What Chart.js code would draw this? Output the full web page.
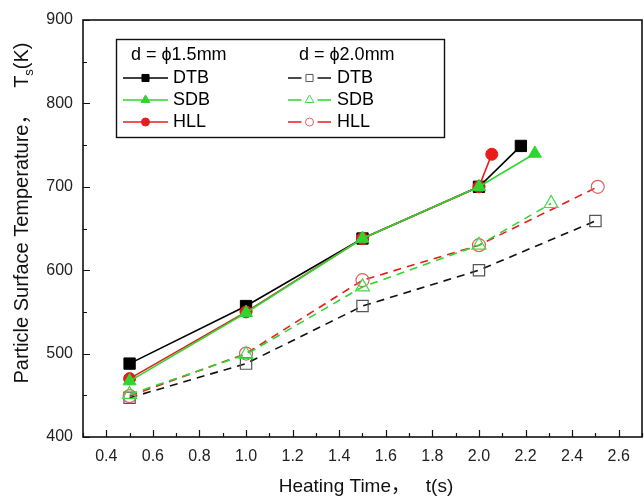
<!DOCTYPE html>
<html>
<head>
<meta charset="utf-8">
<script src="https://cdn.jsdelivr.net/npm/chart.js@4"></script>
<style>
  html, body { margin: 0; padding: 0; overflow: hidden; background: #fff; }
  #wrap { width: 652px; height: 497px; }
</style>
</head>
<body>
<div id="wrap"><canvas id="myChart"></canvas></div>
<script>
/* Daten */
const timeDTB15 = [0.5, 1.0, 1.5, 2.0, 2.18];
const tempDTB15 = [488, 557, 638, 700, 749];
const timeSDB15 = [0.5, 1.0, 1.5, 2.0, 2.24];
const tempSDB15 = [467, 549, 638, 700, 740];
const timeHLL15 = [0.5, 1.0, 1.5, 2.0, 2.055];
const tempHLL15 = [470, 550, 638, 700, 739];

const timeDTB20 = [0.5, 1.0, 1.5, 2.0, 2.5];
const tempDTB20 = [447, 488, 557, 600, 659];
const timeSDB20 = [0.5, 1.0, 1.5, 2.0, 2.31];
const tempSDB20 = [451, 499, 580, 630, 680];
const timeHLL20 = [0.5, 1.0, 1.5, 2.0, 2.51];
const tempHLL20 = [449, 500, 588, 630, 700];

const xMajor = [0.4, 0.6, 0.8, 1.0, 1.2, 1.4, 1.6, 1.8, 2.0, 2.2, 2.4, 2.6];
const xMinor = [0.3, 0.5, 0.7, 0.9, 1.1, 1.3, 1.5, 1.7, 1.9, 2.1, 2.3, 2.5, 2.7];
const yMajor = [400, 500, 600, 700, 800, 900];
const yMinor = [450, 550, 650, 750, 850];

const FONT = "'Liberation Sans', Arial, 'Noto Sans CJK SC', sans-serif";

function pts(xs, ys) {
  return xs.map((x, i) => ({ x: x, y: ys[i] }));
}

const green = '#2fd62f';
const red = '#e81c1c';

/* Reihenfolge: erster Datensatz liegt oben */
const datasets = [
  { label: 'SDB', group: 0, data: pts(timeSDB15, tempSDB15), borderColor: green, backgroundColor: green,
    pointStyle: 'triangle', pointRadius: 7.5, borderWidth: 1.6, pointBorderWidth: 1 },
  { label: 'HLL', group: 0, data: pts(timeHLL15, tempHLL15), borderColor: red, backgroundColor: red,
    pointStyle: 'circle', pointRadius: 6, borderWidth: 1.6, pointBorderWidth: 1 },
  { label: 'DTB', group: 0, data: pts(timeDTB15, tempDTB15), borderColor: '#000', backgroundColor: '#000',
    pointStyle: 'rect', pointRadius: 8, borderWidth: 1.6, pointBorderWidth: 1 },
  { label: 'SDB', group: 1, data: pts(timeSDB20, tempSDB20), borderColor: green, backgroundColor: 'rgba(0,0,0,0)',
    pointBorderColor: '#45d845', pointStyle: 'triangle', pointRadius: 8, borderWidth: 1.6, pointBorderWidth: 1.2,
    borderDash: [8, 6] },
  { label: 'HLL', group: 1, data: pts(timeHLL20, tempHLL20), borderColor: red, backgroundColor: 'rgba(0,0,0,0)',
    pointBorderColor: '#e06060', pointStyle: 'circle', pointRadius: 6.5, borderWidth: 1.6, pointBorderWidth: 1.2,
    borderDash: [8, 6] },
  { label: 'DTB', group: 1, data: pts(timeDTB20, tempDTB20), borderColor: '#111', backgroundColor: 'rgba(0,0,0,0)',
    pointBorderColor: '#555', pointStyle: 'rect', pointRadius: 8, borderWidth: 1.6, pointBorderWidth: 1.2,
    borderDash: [8, 6] }
];
datasets.forEach(d => { d.showLine = true; d.tension = 0; });

/* Rahmen und Ticks nach innen */
const frame = {
  id: 'frame',
  beforeDatasetsDraw(chart) {
    const { ctx, chartArea: a, scales: { x, y } } = chart;
    ctx.save();
    ctx.strokeStyle = '#111';
    ctx.lineWidth = 1.6;
    ctx.strokeRect(a.left, a.top, a.right - a.left, a.bottom - a.top);
    ctx.lineWidth = 1.2;
    ctx.beginPath();
    x.ticks.forEach(t => {
      const px = Math.round(x.getPixelForValue(t.value)) + 0.5;
      const len = t.label ? 7 : 4;
      ctx.moveTo(px, a.bottom);
      ctx.lineTo(px, a.bottom - len);
    });
    y.ticks.forEach(t => {
      const py = Math.round(y.getPixelForValue(t.value)) + 0.5;
      const len = t.label ? 7 : 4;
      ctx.moveTo(a.left, py);
      ctx.lineTo(a.left + len, py);
    });
    ctx.stroke();
    ctx.restore();
  }
};

/* Achsentitel und Legende */
const extras = {
  id: 'extras',
  afterDraw(chart) {
    const ctx = chart.ctx;
    ctx.save();
    ctx.fillStyle = '#111';

    // x-Titel
    ctx.font = '19px ' + FONT;
    ctx.textAlign = 'center';
    ctx.textBaseline = 'alphabetic';
    ctx.fillText('Heating Time\uFF0C   t(s)', 366, 492);

    // y-Titel mit Index
    const main = 'Particle Surface Temperature\uFF0C   T';
    ctx.font = '20px ' + FONT;
    const w1 = ctx.measureText(main).width;
    ctx.font = '13px ' + FONT;
    const w2 = ctx.measureText('s').width;
    ctx.font = '20px ' + FONT;
    const w3 = ctx.measureText('(K)').width;
    const total = w1 + w2 + w3;
    ctx.translate(28, 213);
    ctx.rotate(-Math.PI / 2);
    ctx.textAlign = 'left';
    let sx = -total / 2;
    ctx.fillText(main, sx, 0);
    sx += w1;
    ctx.font = '13px ' + FONT;
    ctx.fillText('s', sx, 5);
    sx += w2;
    ctx.font = '20px ' + FONT;
    ctx.fillText('(K)', sx, 0);
    ctx.setTransform(1, 0, 0, 1, 0, 0);

    // Legende
    ctx.strokeStyle = '#111';
    ctx.lineWidth = 1.4;
    ctx.strokeRect(116.5, 39.5, 328, 98);
    ctx.font = '18px ' + FONT;
    ctx.textAlign = 'left';
    ctx.textBaseline = 'middle';
    ctx.fillStyle = '#000';
    ctx.fillText('d = \u03D51.5mm', 131, 55);
    ctx.fillText('d = \u03D52.0mm', 299, 55);

    const rows = { DTB: 78, SDB: 100, HLL: 122 };
    const cols = [
      { x1: 123, x2: 168, tx: 173 },
      { x1: 288, x2: 331, tx: 337 }
    ];
    datasets.forEach(ds => {
      const c = cols[ds.group];
      const yy = rows[ds.label];
      const mid = (c.x1 + c.x2) / 2;
      ctx.strokeStyle = ds.borderColor;
      ctx.lineWidth = 1.6;
      ctx.beginPath();
      if (ds.group === 0) {
        ctx.moveTo(c.x1, yy); ctx.lineTo(c.x2, yy);
      } else {
        ctx.moveTo(c.x1, yy); ctx.lineTo(mid - 8, yy);
        ctx.moveTo(mid + 8, yy); ctx.lineTo(c.x2, yy);
      }
      ctx.stroke();
      ctx.fillStyle = ds.backgroundColor;
      ctx.strokeStyle = ds.pointBorderColor || ds.borderColor;
      ctx.lineWidth = 1;
      const r = ds.pointStyle === 'rect' ? 5 : (ds.pointStyle === 'triangle' ? 5 : 4);
      Chart.helpers.drawPoint(ctx, { pointStyle: ds.pointStyle, radius: r, borderWidth: 1, rotation: 0 }, mid, yy);
      ctx.fillStyle = '#000';
      ctx.fillText(ds.label, c.tx, yy);
    });
    ctx.restore();
  }
};

const ctx = document.getElementById('myChart');

new Chart(ctx, {
  type: 'scatter',
  data: { datasets: datasets },
  options: {
    responsive: true,
    maintainAspectRatio: false,
    animation: false,
    layout: { padding: { left: 0, top: 20, right: 4, bottom: 0 } },
    plugins: {
      legend: { display: false },
      tooltip: { enabled: false }
    },
    scales: {
      x: {
        type: 'linear',
        min: 0.3,
        max: 2.7,
        grid: { display: false, drawTicks: false },
        border: { display: false },
        afterBuildTicks: s => {
          s.ticks = xMajor.concat(xMinor).sort((a, b) => a - b).map(v => ({ value: v }));
        },
        afterFit: s => { s.height = 60; },
        ticks: {
          autoSkip: false,
          maxRotation: 0,
          padding: 10,
          color: '#222',
          font: { size: 16, family: FONT },
          callback: v => xMajor.includes(v) ? v.toFixed(1) : ''
        }
      },
      y: {
        type: 'linear',
        min: 400,
        max: 900,
        grid: { display: false, drawTicks: false },
        border: { display: false },
        afterBuildTicks: s => {
          s.ticks = yMajor.concat(yMinor).sort((a, b) => a - b).map(v => ({ value: v }));
        },
        afterFit: s => { s.width = 83; },
        ticks: {
          autoSkip: false,
          padding: 10,
          color: '#222',
          font: { size: 16, family: FONT },
          callback: v => yMajor.includes(v) ? String(v) : ''
        }
      }
    }
  },
  plugins: [frame, extras]
});
</script>
</body>
</html>
